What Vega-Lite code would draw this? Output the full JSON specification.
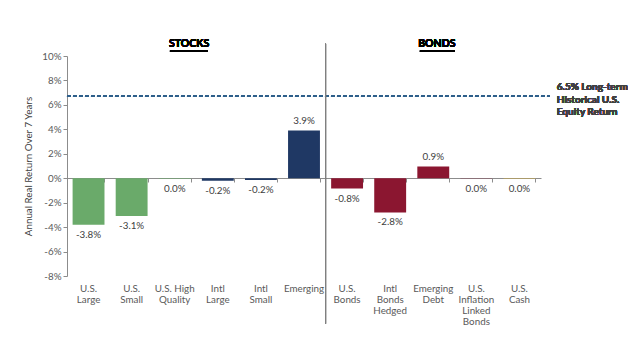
{
  "$schema": "https://vega.github.io/schema/vega-lite/v6.json",
  "width": 474,
  "height": 220,
  "autosize": {"type": "none"},
  "padding": {"left": 67, "top": 56, "right": 99, "bottom": 77},
  "background": "white",
  "config": {"view": {"stroke": null}, "font": "Lato"},
  "data": {
    "values": [
      {"cat": "U.S.|Large", "value": -3.8, "label": "-3.8%", "grp": "US stocks"},
      {"cat": "U.S.|Small", "value": -3.1, "label": "-3.1%", "grp": "US stocks"},
      {"cat": "U.S. High|Quality", "value": -0.05, "label": "0.0%", "grp": "US stocks"},
      {"cat": "Intl|Large", "value": -0.2, "label": "-0.2%", "grp": "Intl stocks"},
      {"cat": "Intl|Small", "value": -0.15, "label": "-0.2%", "grp": "Intl stocks"},
      {"cat": "Emerging", "value": 3.9, "label": "3.9%", "grp": "Intl stocks"},
      {"cat": "U.S.|Bonds", "value": -0.85, "label": "-0.8%", "grp": "Bonds"},
      {"cat": "Intl|Bonds|Hedged", "value": -2.8, "label": "-2.8%", "grp": "Bonds"},
      {"cat": "Emerging|Debt", "value": 0.95, "label": "0.9%", "grp": "Bonds"},
      {"cat": "U.S.|Inflation|Linked|Bonds", "value": -0.05, "label": "0.0%", "grp": "Linked"},
      {"cat": "U.S.|Cash", "value": -0.05, "label": "0.0%", "grp": "Cash"}
    ]
  },
  "resolve": {"axis": {"x": "independent", "y": "independent"}},
  "layer": [
    {
      "mark": {"type": "bar"},
      "encoding": {
        "x": {
          "field": "cat", "type": "nominal", "sort": null,
          "scale": {"paddingInner": 0.26, "paddingOuter": 0.13},
          "axis": {
            "title": null, "orient": "bottom", "domain": false, "ticks": false, "labelAngle": 0,
            "labelExpr": "split(datum.value, '|')",
            "labelBaseline": "top", "labelPadding": 7, "labelLineHeight": 11,
            "labelFontSize": 9.8, "labelColor": "#595959"
          }
        },
        "y": {
          "field": "value", "type": "quantitative",
          "scale": {"domain": [-8, 10], "nice": false, "zero": true},
          "axis": {
            "title": "Annual Real Return Over 7 Years",
            "titleFontSize": 9.8, "titleFontWeight": "normal", "titleColor": "#404040",
            "titlePadding": 8,
            "values": [-8, -6, -4, -2, 0, 2, 4, 6, 8, 10],
            "labelExpr": "datum.value + '%'",
            "labelOverlap": false,
            "labelFontSize": 9.8, "labelColor": "#595959",
            "grid": false, "domainColor": "#8c8c8c", "tickColor": "#8c8c8c", "tickSize": 4,
            "labelPadding": 2
          }
        },
        "color": {
          "field": "grp", "type": "nominal", "legend": null,
          "scale": {
            "domain": ["US stocks", "Intl stocks", "Bonds", "Linked", "Cash"],
            "range": ["#6aaa6a", "#1f3864", "#8b1630", "#8a5866", "#c9a94a"]
          }
        }
      }
    },
    {
      "mark": {"type": "tick", "opacity": 0},
      "encoding": {
        "x": {
          "field": "cat", "type": "nominal", "sort": null,
          "axis": {
            "title": null, "orient": "bottom", "labels": false, "domain": true, "ticks": true,
            "tickBand": "extent", "offset": -98, "domainColor": "#8c8c8c",
            "tickColor": "#8c8c8c", "tickSize": 4
          }
        },
        "y": {"field": "value", "type": "quantitative", "axis": null}
      }
    },
    {
      "transform": [{"filter": "datum.value < 0"}],
      "mark": {"type": "text", "baseline": "top", "dy": 5, "fontSize": 9.8, "color": "#404040"},
      "encoding": {
        "x": {"field": "cat", "type": "nominal", "sort": null, "axis": null},
        "y": {"field": "value", "type": "quantitative", "axis": null},
        "text": {"field": "label"}
      }
    },
    {
      "transform": [{"filter": "datum.value >= 0"}],
      "mark": {"type": "text", "baseline": "bottom", "dy": -5, "fontSize": 9.8, "color": "#404040"},
      "encoding": {
        "x": {"field": "cat", "type": "nominal", "sort": null, "axis": null},
        "y": {"field": "value", "type": "quantitative", "axis": null},
        "text": {"field": "label"}
      }
    },
    {
      "mark": {"type": "rule", "color": "#2e5f8a", "strokeWidth": 1.5, "strokeDash": [4, 2]},
      "encoding": {
        "x": {"datum": "U.S.|Large", "bandPosition": -0.176, "axis": null},
        "x2": {"datum": "U.S.|Cash", "bandPosition": 1.45},
        "y": {"datum": 6.7, "axis": null}
      }
    },
    {
      "mark": {"type": "rule", "color": "#7f7f7f", "strokeWidth": 1},
      "encoding": {
        "x": {"datum": "Emerging", "bandPosition": 1.176, "axis": null},
        "y": {"datum": 11, "axis": null},
        "y2": {"datum": -11.9}
      }
    },
    {
      "mark": {"type": "text", "fontWeight": "bold", "fontSize": 10.5, "color": "#000000", "baseline": "middle"},
      "encoding": {
        "x": {"datum": "U.S. High|Quality", "bandPosition": 0.95, "axis": null},
        "y": {"datum": 11, "axis": null},
        "text": {"value": "STOCKS"}
      }
    },
    {
      "mark": {"type": "text", "fontWeight": "bold", "fontSize": 10.5, "color": "#000000", "baseline": "middle"},
      "encoding": {
        "x": {"datum": "Emerging|Debt", "bandPosition": 0.61, "axis": null},
        "y": {"datum": 11, "axis": null},
        "text": {"value": "BONDS"}
      }
    },
    {
      "mark": {"type": "rule", "color": "#000000", "strokeWidth": 1},
      "encoding": {
        "x": {"datum": "U.S. High|Quality", "bandPosition": 0.35, "axis": null},
        "x2": {"datum": "Intl|Large", "bandPosition": 0.19},
        "y": {"datum": 10.4, "axis": null}
      }
    },
    {
      "mark": {"type": "rule", "color": "#000000", "strokeWidth": 1},
      "encoding": {
        "x": {"datum": "Emerging|Debt", "bandPosition": 0.08, "axis": null},
        "x2": {"datum": "Emerging|Debt", "bandPosition": 1.18},
        "y": {"datum": 10.4, "axis": null}
      }
    },
    {
      "mark": {"type": "text", "fontWeight": "bold", "fontSize": 10, "color": "#404040", "align": "left", "baseline": "middle", "lineBreak": "\n", "lineHeight": 12.5},
      "encoding": {
        "x": {"datum": "U.S.|Cash", "bandPosition": 1.67, "axis": null},
        "y": {"datum": 7.45, "axis": null},
        "text": {"value": "6.5% Long-term\nHistorical U.S.\nEquity Return"}
      }
    }
  ]
}
